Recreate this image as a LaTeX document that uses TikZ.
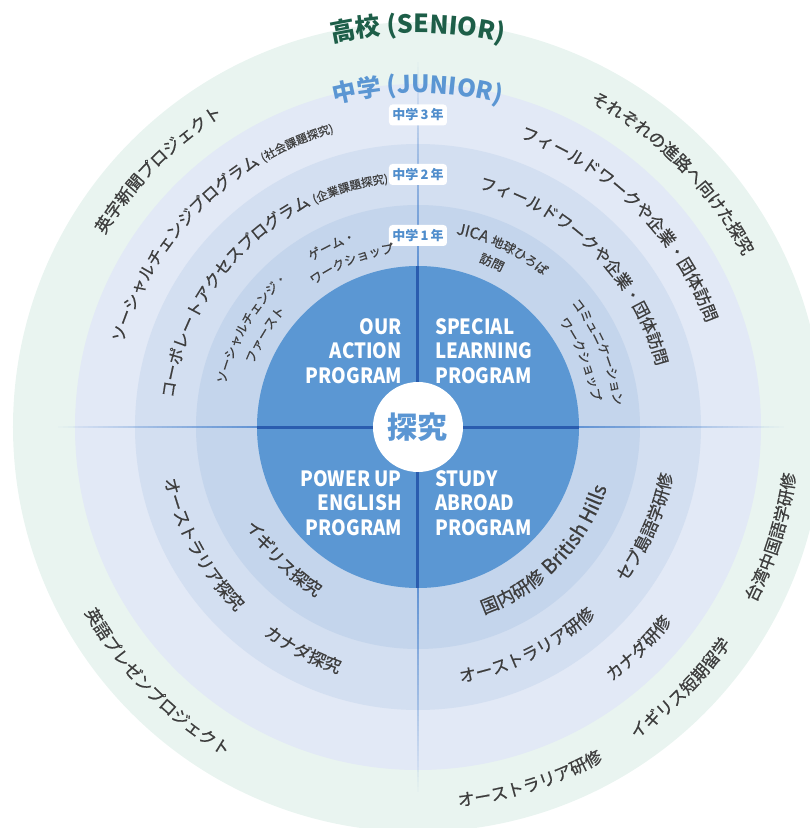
\documentclass[tikz,border=0pt]{standalone}
\usepackage{fontspec}
\setmainfont{Noto Sans CJK JP}
\newfontfamily\jpm{Noto Sans CJK JP}[FakeBold=0.6]
\newfontfamily\jpw{Noto Sans CJK JP}[FakeBold=0.6,LetterSpace=6]
\newfontfamily\dinb{Noto Sans CJK JP}[FakeStretch=0.89]
\usetikzlibrary{decorations.text}
\definecolor{snr}{HTML}{E9F4F0}
\definecolor{rthree}{HTML}{E2E9F6}
\definecolor{rtwo}{HTML}{D3DFF1}
\definecolor{rone}{HTML}{C4D5EC}
\definecolor{core}{HTML}{5B97D3}
\definecolor{dkline}{HTML}{2A5CAE}
\definecolor{fdline}{HTML}{5A8ED2}
\definecolor{txt}{HTML}{3D3D3D}
\definecolor{badgeblue}{HTML}{4F8DCC}
\definecolor{ttlgreen}{HTML}{1D5E48}
\definecolor{ttlblue}{HTML}{5B96D3}
\newcommand\lbl{\jpm\fontsize{17}{17}\selectfont}
\newcommand\lbm{\jpm\fontsize{16.5}{16.5}\selectfont}
\newcommand\lsm{\jpm\fontsize{11.5}{11.5}\selectfont}
\newcommand\lxs{\jpm\fontsize{12.5}{12.5}\selectfont}
\newcommand\latm{\jpm\fontsize{15.5}{15.5}\selectfont}
\newcommand\lbw{\jpw\fontsize{18}{18}\selectfont}
\newcommand\latf{\jpm\fontsize{20}{20}\selectfont}
\newcommand\ttlfont{\bfseries\fontsize{25}{25}\selectfont}
\newcommand\ttlfontb{\bfseries\fontsize{24}{24}\selectfont}
% clockwise text (upper half): radius of baseline, centre angle, text
\newcommand\cwtext[4][txt]{%
  \path[decorate,decoration={text along path,text color=#1,text align=center,text={#4}}]
    ({#3+85}:#2) arc[start angle={#3+85},end angle={#3-85},radius=#2];}
% counter-clockwise text (lower half)
\newcommand\ccwtext[4][txt]{%
  \path[decorate,decoration={text along path,text color=#1,text align=center,text={#4}}]
    ({#3-85}:#2) arc[start angle={#3-85},end angle={#3+85},radius=#2];}
\newcommand\fadeline[2]{%
  \foreach \i in {0,...,39}{%
    \pgfmathsetmacro\ra{161+(#2-161)*\i/40}%
    \pgfmathsetmacro\rb{161+(#2-161)*(\i+1)/40}%
    \pgfmathsetmacro\op{0.9*(1-\i/40)}%
    \draw[line width=2.6pt,color=fdline,opacity=\op] (#1:\ra) -- (#1:\rb);
  }}
\tikzset{
  quad/.style={text=white,font=\dinb\bfseries\fontsize{21}{21}\selectfont,inner sep=0},
  badge/.style={fill=white,rounded corners=3.5pt,minimum width=58pt,minimum height=21pt,
    inner sep=0,text=badgeblue,font=\bfseries\fontsize{13}{13}\selectfont},
}
\begin{document}
\begin{tikzpicture}[x=1pt,y=1pt]
\useasboundingbox (-418,-401) rectangle (392,427);
\clip (-418,-401) rectangle (392,427);
\coordinate (C) at (0,0);
% rings
\fill[snr] (C) circle[radius=405];
\fill[rthree] (C) circle[radius=343];
\fill[rtwo] (C) circle[radius=283];
\fill[rone] (C) circle[radius=222];
\fill[core] (C) circle[radius=161];
% axis lines
\fadeline{90}{365}
\fadeline{-90}{365}
\fadeline{180}{360}
\fadeline{0}{366}
\coordinate (vt) at (0,161);
\coordinate (vb) at (0,-161);
\coordinate (hl) at (-161,0);
\coordinate (hr) at (161,0);
\draw[line width=3pt,dkline] (vb) -- (vt);
\draw[line width=3pt,dkline] (hl) -- (hr);
% centre
\node[circle,fill=white,minimum size=90pt,inner sep=0,text=ttlblue,
  font=\bfseries\fontsize{30}{30}\selectfont] (tankyu) at (C) {探究};
% quadrant texts
\node[quad,anchor=base east] (oa1) at (-16,93) {OUR};
\node[quad,anchor=base east] (oa2) at (-16,68.5) {ACTION\hspace{6pt}};
\node[quad,anchor=base east] (oa3) at (-16,44) {PROGRAM};
\node[quad,anchor=base west] (sl1) at (17,93) {SPECIAL};
\node[quad,anchor=base west] (sl2) at (17,68.5) {LEARNING};
\node[quad,anchor=base west] (sl3) at (17,44) {PROGRAM};
\node[quad,anchor=base east] (pe1) at (-16,-59) {POWER UP};
\node[quad,anchor=base east] (pe2) at (-16,-83.5) {ENGLISH};
\node[quad,anchor=base east] (pe3) at (-16,-108) {PROGRAM};
\node[quad,anchor=base west] (sa1) at (17,-59) {STUDY};
\node[quad,anchor=base west] (sa2) at (17,-83.5) {ABROAD};
\node[quad,anchor=base west] (sa3) at (17,-108) {PROGRAM};
% year badges
\node[badge] (y3) at (0,312) {中学\,3\,年};
\node[badge] (y2) at (0,252.5) {中学\,2\,年};
\node[badge] (y1) at (0,191.5) {中学\,1\,年};
% titles
\cwtext[ttlgreen]{394}{90}{|\ttlfont|高校 (SENIOR)}
\cwtext[ttlblue]{334}{90}{|\ttlfontb|中学 (JUNIOR)}
% outer ring (senior)
\cwtext{367.5}{135.25}{|\lbl|英字新聞プロジェクト}
\cwtext{367.5}{44.9}{|\lbl|それぞれの進路へ向けた探究}
\ccwtext{380.5}{-17.3}{|\lbl|台湾中国語学研修}
\ccwtext{380.5}{-44.9}{|\lbl|イギリス短期留学}
\ccwtext{381.5}{-72.4}{|\lbl|オーストラリア研修}
\ccwtext{381.5}{224.4}{|\lbl|英語プレゼンプロジェクト}
% ring 3 (junior 3)
\cwtext{306.5}{135}{|\lbm|ソーシャルチェンジプログラム |\lsm|(社会課題探究)}
\cwtext{306.5}{45.2}{|\lbl|フィールドワークや企業・団体訪問}
\ccwtext{320}{-45.1}{|\lbl|カナダ研修}
% ring 2 (junior 2)
\cwtext{246}{135.1}{|\lbm|コーポレートアクセスプログラム |\lsm|(企業課題探究)}
\cwtext{246}{45}{|\lbm|フィールドワークや企業・団体訪問}
\ccwtext{259}{208.6}{|\lbl|オーストラリア探究}
\ccwtext{259}{242.7}{|\lbl|カナダ探究}
\ccwtext{259}{-63.6}{|\lbl|オーストラリア研修}
\ccwtext{259}{-23.7}{|\lbl|セブ島語学研修}
% ring 1 (junior 1)
\cwtext{197}{115.4}{|\lxs|ゲーム・}
\cwtext{176}{112}{|\lxs|ワークショップ}
\cwtext{197}{149.3}{|\lxs|ソーシャルチェンジ・}
\cwtext{176}{148.9}{|\lxs|ファースト}
\cwtext{196.5}{64.6}{|\latm|JICA |\lxs|地球ひろば}
\cwtext{176}{65.8}{|\lxs|訪問}
\cwtext{197}{22.6}{|\lxs|コミュニケーション}
\cwtext{176}{22.6}{|\lxs|ワークショップ}
\ccwtext{198}{224.4}{|\lbl|イギリス探究}
\ccwtext{198.5}{-44.2}{|\lbw|国内研修 |\latf|British Hills}
\end{tikzpicture}
\end{document}
